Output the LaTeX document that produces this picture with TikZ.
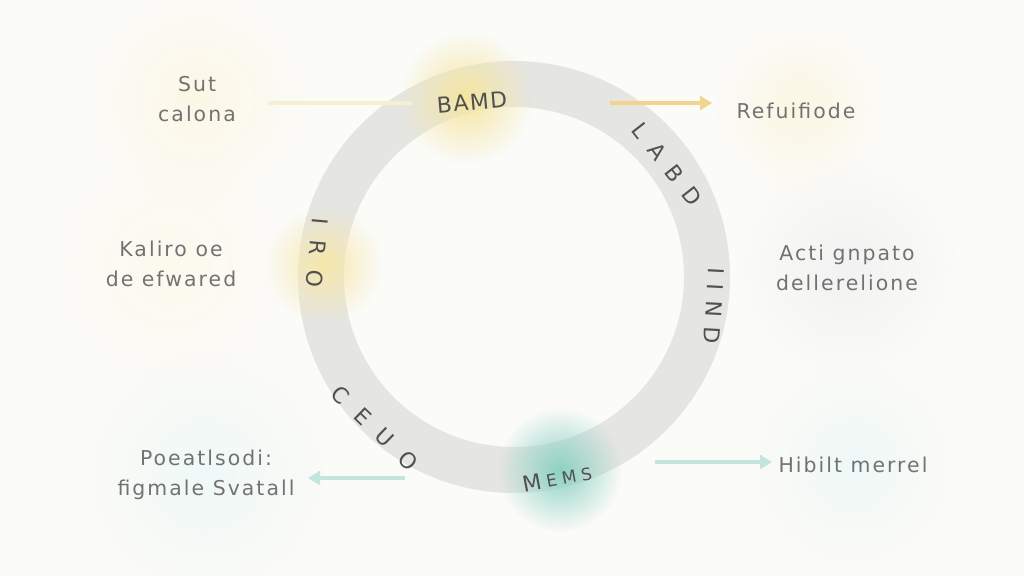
\documentclass[tikz,border=0pt]{standalone}
\usepackage{fontspec}
\setmainfont{DejaVu Sans}
\newfontfamily\lblfont[LetterSpace=10]{DejaVu Sans}
\usetikzlibrary{fadings,arrows.meta}
\definecolor{bg}{HTML}{FBFBF8}
\definecolor{ringc}{HTML}{E5E5E2}
\definecolor{glowy}{HTML}{F4E08F}
\definecolor{glowt}{HTML}{8ED2C4}
\definecolor{txt}{HTML}{727272}
\definecolor{rtxt}{HTML}{505050}
\definecolor{arry}{HTML}{F2D48E}
\definecolor{arrt}{HTML}{C4E4DE}
\definecolor{liney}{HTML}{F5F0D2}
\tikzfading[name=glowfade, inner color=transparent!0, outer color=transparent!100]
\tikzset{
  glow/.style={fill=#1, path fading=glowfade},
  lbl/.style={text=txt, font=\lblfont\fontsize{20.5}{30}\selectfont, align=center, inner sep=2bp},
  ringlbl/.style={text=rtxt, font=\fontsize{22}{22}\selectfont, inner sep=1bp},
  conn/.style={line width=4bp, -{Triangle[length=12bp,width=14bp]}},
  faintline/.style={line width=4bp, liney},
}
\newcommand{\gp}[1]{\hspace{#1bp}}
\begin{document}
\begin{tikzpicture}[x=1bp,y=-1bp]
\useasboundingbox (0,0) rectangle (1024,576);
\clip (0,0) rectangle (1024,576);
\fill[bg] (0,0) rectangle (1024,576);
% soft blobs behind outer labels
\fill[glow=glowy!22] (197,100) circle[radius=110bp];
\fill[glow=glowy!25] (800,108) circle[radius=85bp];
\fill[glow=glowy!16] (170,264) circle[radius=115bp];
\fill[glow=black!5] (847,268) circle[radius=110bp];
\fill[glow=glowt!14] (206,475) circle[radius=120bp];
\fill[glow=glowt!14] (853,465) circle[radius=100bp];
% ring
\node[draw=ringc, line width=46bp, circle, minimum size=386bp, inner sep=0pt] (ring) at (514,277) {};
% glows on the ring
\fill[glow=glowy!85] (466,98) circle[radius=66bp];
\fill[glow=glowy!75] (324,265) circle[radius=58bp];
\fill[glow=glowt] (560,470) circle[radius=62bp];
% ring labels
\node[ringlbl, rotate=5] (bamd) at (472,102) {B\gp{1.5}A\gp{1.5}M\gp{1.5}D};
\node[ringlbl, rotate=-52] (labd) at (667,164) {L\gp{13}A\gp{13}B\gp{13}D};
\node[ringlbl, rotate=-93] (iind) at (714,306) {I\gp{10}I\gp{10}N\gp{10}D};
\node[ringlbl, rotate=11] (mems) at (557,478) {M\gp{5}{\fontsize{17}{17}\selectfont E\gp{5}M\gp{5}S}};
\node[ringlbl, rotate=-44] (ceuo) at (375,428) {C\gp{16}E\gp{16}U\gp{16}O};
\node[ringlbl, rotate=-95] (iro) at (317,253) {I\gp{15}R\gp{15}O};
% outer labels
\node[lbl] (sut) at (197,99) {Sut\\calona};
\node[lbl] (refu) at (796,111) {Refuifiode};
\node[lbl] (kal) at (171,264) {Kaliro oe\\de efwared};
\node[lbl] (acti) at (847,268) {Acti gnpato\\dellerelione};
\node[lbl] (poe) at (206,475) {Poeatlsodi:\\figmale Svatall};
\node[lbl] (hib) at (853,465) {Hibilt merrel};
% connectors
\coordinate (ya) at (610,103);
\coordinate (yb) at (712,103);
\draw[conn, arry] (ya) -- (yb);
\coordinate (sa) at (268,103);
\coordinate (sb) at (412,103);
\draw[faintline] (sa) -- (sb);
\coordinate (ta) at (405,478);
\coordinate (tb) at (308,478);
\draw[conn, arrt] (ta) -- (tb);
\coordinate (tc) at (655,462);
\coordinate (td) at (772,462);
\draw[conn, arrt] (tc) -- (td);
\end{tikzpicture}
\end{document}
